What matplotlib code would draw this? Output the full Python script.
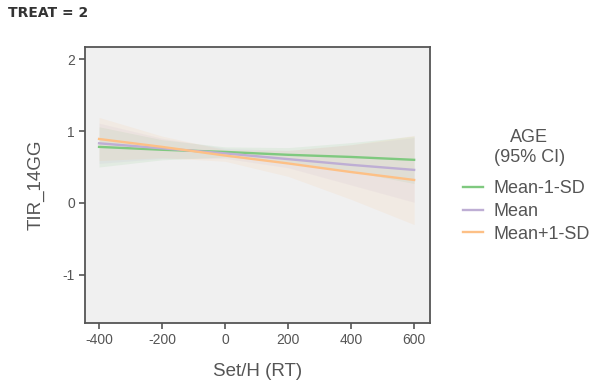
import matplotlib.pyplot as plt
import numpy as np

plt.rcParams['font.family'] = ['Liberation Sans', 'DejaVu Sans']

# values at these x positions
x_pts = [-400, -200, 0, 200, 400, 600]

groups = ['Mean-1-SD', 'Mean', 'Mean+1-SD']
colors = ['#7fc97f', '#beaed4', '#fdc086']

fit = {
    'Mean-1-SD': [0.78, 0.74, 0.71, 0.67, 0.64, 0.60],
    'Mean':      [0.83, 0.76, 0.69, 0.61, 0.53, 0.46],
    'Mean+1-SD': [0.89, 0.78, 0.66, 0.55, 0.43, 0.32],
}
lower = {
    'Mean-1-SD': [0.50, 0.60, 0.64, 0.57, 0.44, 0.27],
    'Mean':      [0.55, 0.62, 0.62, 0.49, 0.25, 0.01],
    'Mean+1-SD': [0.59, 0.63, 0.58, 0.37, 0.05, -0.30],
}
upper = {
    'Mean-1-SD': [1.06, 0.88, 0.78, 0.77, 0.84, 0.93],
    'Mean':      [1.11, 0.90, 0.76, 0.73, 0.81, 0.91],
    'Mean+1-SD': [1.19, 0.93, 0.74, 0.73, 0.81, 0.94],
}

fig = plt.figure(figsize=(6, 3.85), dpi=100)
ax = fig.add_axes([0.142, 0.161, 0.575, 0.717])
ax.set_facecolor('#f0f0f0')

for g, c in zip(groups, colors):
    ax.fill_between(x_pts, lower[g], upper[g], color=c, alpha=0.12, linewidth=0)
for g, c in zip(groups, colors):
    ax.plot(x_pts, fit[g], color=c, lw=1.7, label=g)

ax.set_xlim(-444, 651)
ax.set_ylim(-1.67, 2.17)
ax.set_xticks([-400, -200, 0, 200, 400, 600])
ax.set_yticks([-1, 0, 1, 2])
ax.set_xticklabels(['-400', '-200', '0', '200', '400', '600'])
ax.set_yticklabels(['-1', '0', '1', '2'])
ax.tick_params(colors='#555555', labelsize=10, length=4, width=1.2, direction='out')
for sp in ax.spines.values():
    sp.set_color('#555555')
    sp.set_linewidth(1.3)

ax.set_xlabel('Set/H (RT)', fontsize=13.5, color='#555555', labelpad=11)
ax.set_ylabel('TIR_14GG', fontsize=13.5, color='#555555', labelpad=13)

# legend title drawn separately so its gap to the entries can match
fig.text(0.882, 1 - 137 / 385, 'AGE', fontsize=13, color='#555555',
         ha='center', va='center')
fig.text(0.882, 1 - 157 / 385, '(95% CI)', fontsize=13, color='#555555',
         ha='center', va='center')

leg = fig.legend(loc='upper left', bbox_to_anchor=(0.76, 0.551), frameon=False,
                 fontsize=13, handlelength=1.1, handletextpad=0.55,
                 labelspacing=0.32, borderaxespad=0)
for t in leg.get_texts():
    t.set_color('#555555')

fig.text(0.013, 0.966, 'TREAT = 2', fontsize=10, fontweight='bold',
         color='#333333', va='center', family='DejaVu Sans')

fig.savefig('out.png', dpi=100)
